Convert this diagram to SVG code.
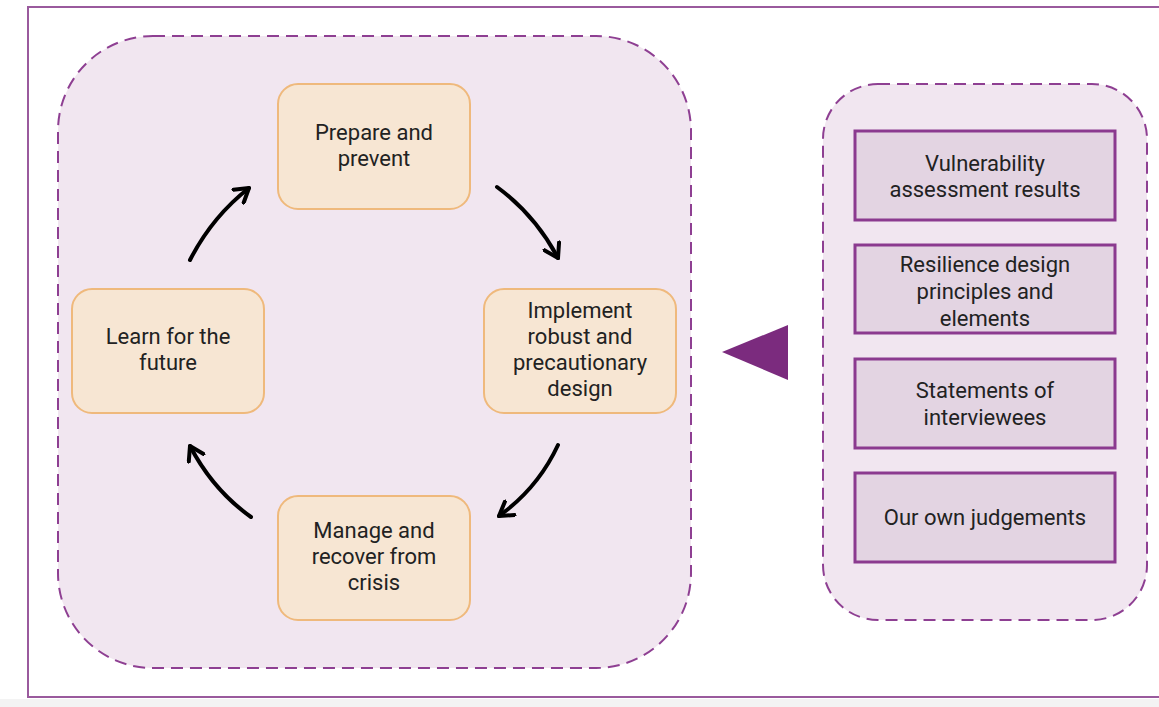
<svg xmlns="http://www.w3.org/2000/svg" width="1159" height="707" viewBox="0 0 1159 707">
  <style>
    .frame { fill: #ffffff; stroke: #9a5a9d; stroke-width: 2; }
    .group { fill: #f1e6f0; stroke: #8e3f92; stroke-width: 2; stroke-dasharray: 12 7; }
    .step { fill: #f7e6d3; stroke: #efb97c; stroke-width: 2; }
    .source { fill: #e3d4e2; stroke: #8b3a8f; stroke-width: 3; }
    .label { font-family: Roboto, "Liberation Sans", sans-serif; font-size: 22px; fill: #222222; text-anchor: middle; }
    .flow { fill: none; stroke: #000000; stroke-width: 4; stroke-linecap: round; marker-end: url(#chevron); }
  </style>
  <defs>
    <marker id="chevron" viewBox="0 0 12 12" refX="9" refY="6" markerWidth="5" markerHeight="5" orient="auto" markerUnits="strokeWidth">
      <path d="M1,1 L9,6 L1,11" fill="none" stroke="#000000" stroke-width="2.4" stroke-linecap="round" stroke-linejoin="round"/>
    </marker>
  </defs>

  <!-- page backdrop -->
  <rect x="0" y="0" width="1159" height="707" fill="#ffffff"/>
  <rect x="0" y="699" width="1159" height="8" fill="#f3f3f3"/>
  <rect class="frame" x="28" y="7" width="1150" height="690"/>

  <!-- containers -->
  <rect id="cycle-area" class="group" x="58" y="36" width="633" height="632" rx="95" ry="95"/>
  <rect id="evidence-area" class="group" x="823" y="84" width="324" height="536" rx="55" ry="55"/>

  <!-- cycle steps -->
  <g id="prepare">
    <rect class="step" x="278" y="84" width="192" height="125" rx="20"/>
    <text class="label" x="374" y="140">Prepare and</text>
    <text class="label" x="374" y="166">prevent</text>
  </g>
  <g id="implement">
    <rect class="step" x="484" y="289" width="192" height="124" rx="20"/>
    <text class="label" x="580" y="318">Implement</text>
    <text class="label" x="580" y="344">robust and</text>
    <text class="label" x="580" y="370">precautionary</text>
    <text class="label" x="580" y="396">design</text>
  </g>
  <g id="manage">
    <rect class="step" x="278" y="496" width="192" height="124" rx="20"/>
    <text class="label" x="374" y="538">Manage and</text>
    <text class="label" x="374" y="564">recover from</text>
    <text class="label" x="374" y="590">crisis</text>
  </g>
  <g id="learn">
    <rect class="step" x="72" y="289" width="192" height="124" rx="20"/>
    <text class="label" x="168" y="344">Learn for the</text>
    <text class="label" x="168" y="370">future</text>
  </g>

  <!-- evidence sources -->
  <g id="vulnerability">
    <rect class="source" x="855" y="131" width="260" height="89"/>
    <text class="label" x="985" y="171">Vulnerability</text>
    <text class="label" x="985" y="197">assessment results</text>
  </g>
  <g id="principles">
    <rect class="source" x="855" y="245" width="260" height="88"/>
    <text class="label" x="985" y="272">Resilience design</text>
    <text class="label" x="985" y="299">principles and</text>
    <text class="label" x="985" y="326">elements</text>
  </g>
  <g id="interviewees">
    <rect class="source" x="855" y="359" width="260" height="89"/>
    <text class="label" x="985" y="398">Statements of</text>
    <text class="label" x="985" y="425">interviewees</text>
  </g>
  <g id="judgements">
    <rect class="source" x="855" y="473" width="260" height="89"/>
    <text class="label" x="985" y="525">Our own judgements</text>
  </g>

  <!-- connectors -->
  <g id="connectors">
    <path class="flow" d="M190,260 Q212,217 249,188"/>
    <path class="flow" d="M497,187 Q535,215 558,258"/>
    <path class="flow" d="M558,445 Q538,488 499,516"/>
    <path class="flow" d="M251,517 Q213,490 190,446"/>
    <polygon id="feeds-into" points="722,352 788,325 788,380" fill="#7b2b7e"/>
  </g>
</svg>
